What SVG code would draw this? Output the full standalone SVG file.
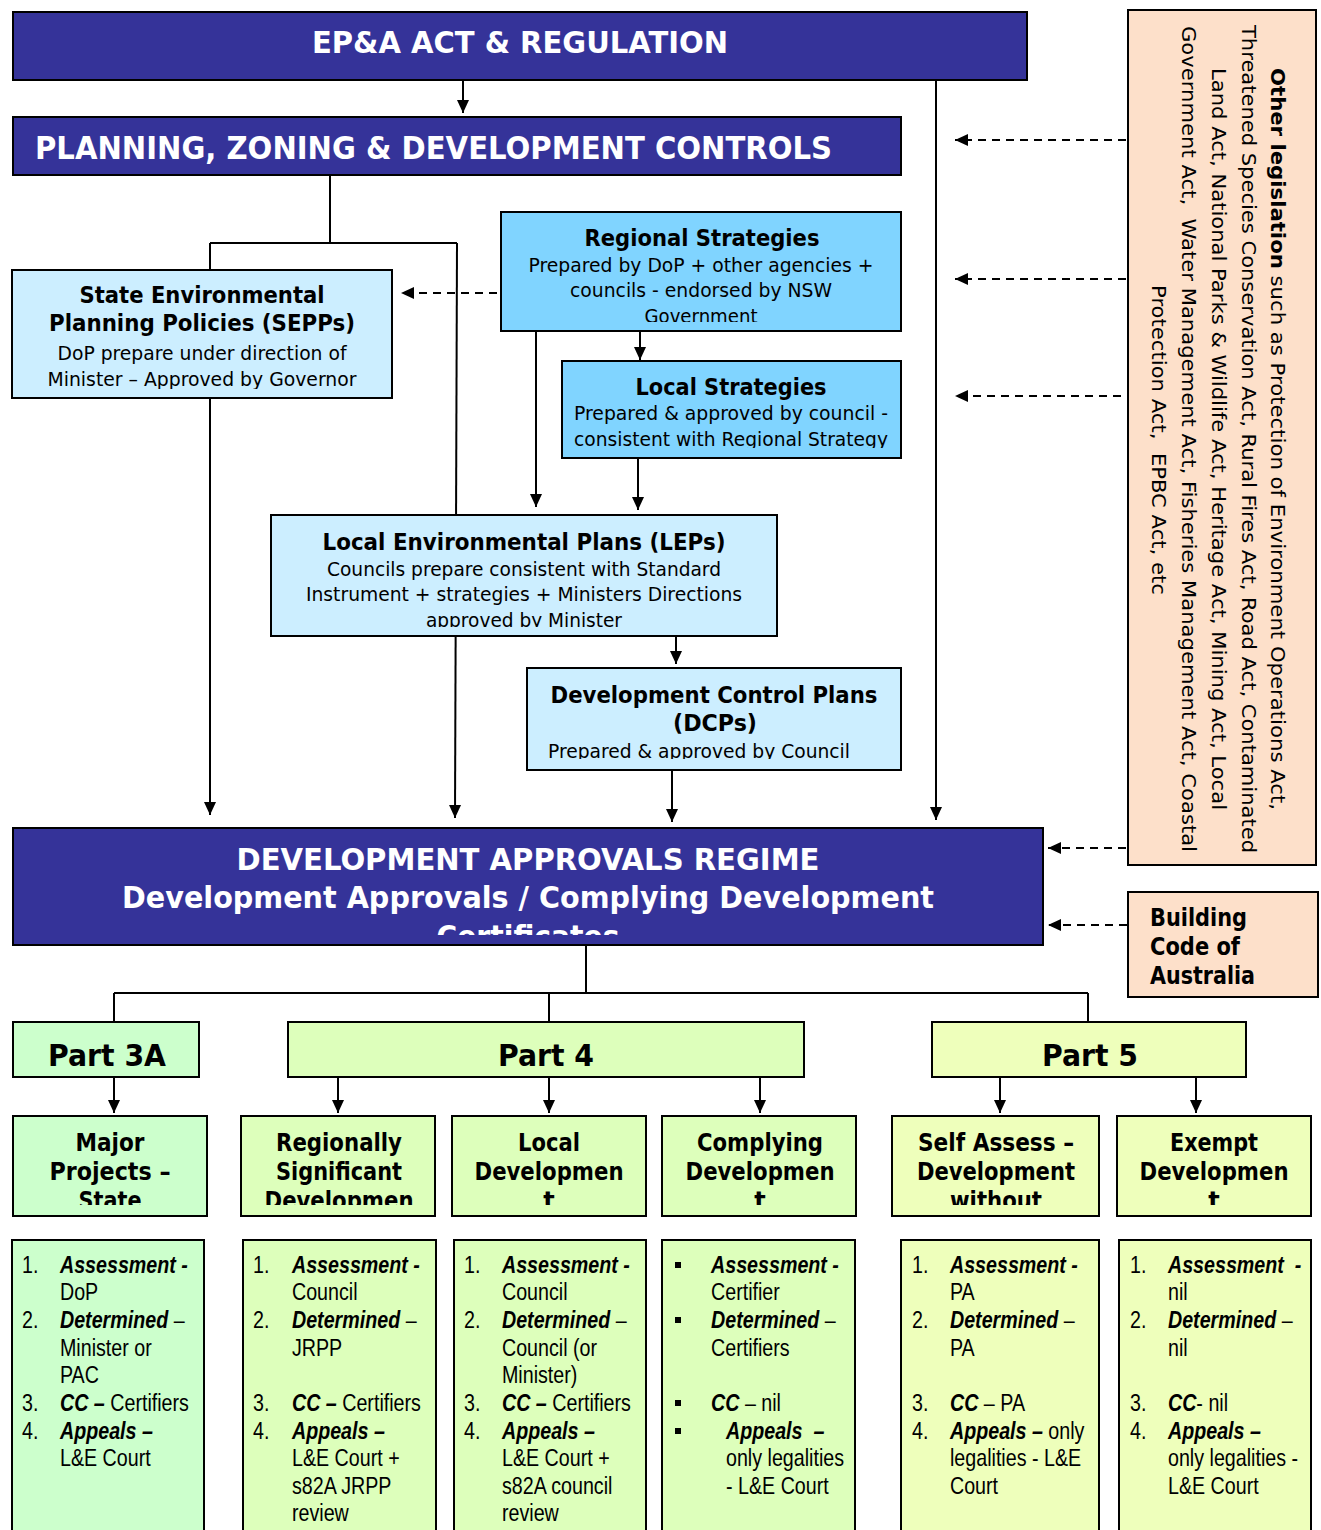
<svg xmlns="http://www.w3.org/2000/svg" width="1321" height="1530" viewBox="0 0 1321 1530">
<defs>
<marker id="ah" markerUnits="userSpaceOnUse" markerWidth="14" markerHeight="14" refX="13" refY="7" orient="auto"><path d="M0,1 L13,7 L0,13 z" fill="#000"/></marker>
<clipPath id="cSEPP"><rect x="12" y="270" width="380" height="119"/></clipPath>
<clipPath id="cReg"><rect x="501" y="212" width="400" height="110"/></clipPath>
<clipPath id="cLoc"><rect x="562" y="361" width="339" height="87"/></clipPath>
<clipPath id="cLEP"><rect x="271" y="515" width="506" height="112"/></clipPath>
<clipPath id="cDCP"><rect x="527" y="668" width="374" height="91"/></clipPath>
<clipPath id="cDAR"><rect x="13" y="828" width="1030" height="107"/></clipPath>
<clipPath id="cRow2"><rect x="0" y="1116" width="1321" height="89"/></clipPath>
</defs>
<style>
.box{stroke:#000;stroke-width:2}
.dark{fill:#353399}
.lb{fill:#cceeff}
.mb{fill:#80d4ff}
.peach{fill:#fde0ca}
.g1{fill:#ccffcc}
.g2{fill:#ddffbb}
.g3{fill:#eeffbb}
.ln{stroke:#000;stroke-width:2;fill:none}
.ar{marker-end:url(#ah)}
.da{stroke-dasharray:8 6}
text{font-family:"DejaVu Sans",Verdana,sans-serif;fill:#000}
.wt{fill:#fff;font-weight:bold;font-size:30px}
.t{font-weight:bold;font-size:23px}
.t2{font-weight:bold;font-size:24px}
.b{font-size:20px}
.c{text-anchor:middle}
.n{font-family:"Liberation Sans",Arial,sans-serif;font-size:24px}
.bi{font-weight:bold;font-style:italic}
.bul{fill:#000}
</style>

<g id="connectors">
<line class="ln ar" x1="463" y1="80" x2="463" y2="113"/>
<line class="ln ar" x1="936" y1="80" x2="936" y2="820"/>
<polyline class="ln" points="330,175 330,243"/>
<polyline class="ln" points="210,243 457,243"/>
<line class="ln ar" x1="210" y1="243" x2="210" y2="815"/>
<line class="ln ar" x1="457" y1="243" x2="455" y2="818"/>
<line class="ln ar" x1="536" y1="331" x2="536" y2="507"/>
<line class="ln ar" x1="640" y1="331" x2="640" y2="360"/>
<line class="ln ar" x1="638" y1="458" x2="638" y2="510"/>
<line class="ln ar" x1="676" y1="636" x2="676" y2="664"/>
<line class="ln ar" x1="672" y1="770" x2="672" y2="822"/>
<line class="ln da ar" x1="497" y1="293" x2="401" y2="293"/>
<line class="ln da ar" x1="1126" y1="140" x2="955" y2="140"/>
<line class="ln da ar" x1="1126" y1="279" x2="955" y2="279"/>
<line class="ln da ar" x1="1121" y1="396" x2="955" y2="396"/>
<line class="ln da ar" x1="1126" y1="848" x2="1048" y2="848"/>
<line class="ln da ar" x1="1127" y1="925" x2="1048" y2="925"/>
<line class="ln" x1="586" y1="945" x2="586" y2="993"/>
<line class="ln" x1="114" y1="993" x2="1088" y2="993"/>
<line class="ln" x1="114" y1="993" x2="114" y2="1022"/>
<line class="ln" x1="549" y1="993" x2="549" y2="1022"/>
<line class="ln" x1="1088" y1="993" x2="1088" y2="1022"/>
<line class="ln ar" x1="114" y1="1077" x2="114" y2="1113"/>
<line class="ln ar" x1="338" y1="1077" x2="338" y2="1113"/>
<line class="ln ar" x1="549" y1="1077" x2="549" y2="1113"/>
<line class="ln ar" x1="760" y1="1077" x2="760" y2="1113"/>
<line class="ln ar" x1="1000" y1="1077" x2="1000" y2="1113"/>
<line class="ln ar" x1="1196" y1="1077" x2="1196" y2="1113"/>
</g>

<g id="epa">
<rect class="box dark" x="13" y="12" width="1014" height="68"/>
<text class="wt c" x="520" y="53" textLength="416" lengthAdjust="spacingAndGlyphs">EP&amp;A ACT &amp; REGULATION</text>
</g>

<g id="planning">
<rect class="box dark" x="13" y="117" width="888" height="58"/>
<text class="wt" x="35" y="159" style="font-size:32px" textLength="797" lengthAdjust="spacingAndGlyphs">PLANNING, ZONING &amp; DEVELOPMENT CONTROLS</text>
</g>

<g id="sepp">
<rect class="box lb" x="12" y="270" width="380" height="128"/>
<g clip-path="url(#cSEPP)">
<text class="t c" x="202" y="303" textLength="245" lengthAdjust="spacingAndGlyphs">State Environmental</text>
<text class="t c" x="202" y="331" textLength="306" lengthAdjust="spacingAndGlyphs">Planning Policies (SEPPs)</text>
<text class="b c" x="202" y="360" textLength="289" lengthAdjust="spacingAndGlyphs">DoP prepare under direction of</text>
<text class="b c" x="202" y="386" textLength="309" lengthAdjust="spacingAndGlyphs">Minister – Approved by Governor</text>
</g>
</g>

<g id="regional">
<rect class="box mb" x="501" y="212" width="400" height="119"/>
<g clip-path="url(#cReg)">
<text class="t c" x="702" y="246" textLength="235" lengthAdjust="spacingAndGlyphs">Regional Strategies</text>
<text class="b c" x="701" y="272" textLength="345" lengthAdjust="spacingAndGlyphs">Prepared by DoP + other agencies +</text>
<text class="b c" x="701" y="297" textLength="262" lengthAdjust="spacingAndGlyphs">councils - endorsed by NSW</text>
<text class="b c" x="701" y="323" textLength="113" lengthAdjust="spacingAndGlyphs">Government</text>
</g>
</g>

<g id="local-strategies">
<rect class="box mb" x="562" y="361" width="339" height="97"/>
<g clip-path="url(#cLoc)">
<text class="t c" x="731" y="395" textLength="191" lengthAdjust="spacingAndGlyphs">Local Strategies</text>
<text class="b c" x="731" y="420" textLength="314" lengthAdjust="spacingAndGlyphs">Prepared &amp; approved by council -</text>
<text class="b c" x="731" y="446" textLength="314" lengthAdjust="spacingAndGlyphs">consistent with Regional Strategy</text>
</g>
</g>

<g id="leps">
<rect class="box lb" x="271" y="515" width="506" height="121"/>
<g clip-path="url(#cLEP)">
<text class="t c" x="524" y="550" textLength="403" lengthAdjust="spacingAndGlyphs">Local Environmental Plans (LEPs)</text>
<text class="b c" x="524" y="576" textLength="394" lengthAdjust="spacingAndGlyphs">Councils prepare consistent with Standard</text>
<text class="b c" x="524" y="601" textLength="436" lengthAdjust="spacingAndGlyphs">Instrument + strategies + Ministers Directions</text>
<text class="b c" x="524" y="627" textLength="196" lengthAdjust="spacingAndGlyphs">approved by Minister</text>
</g>
</g>

<g id="dcps">
<rect class="box lb" x="527" y="668" width="374" height="102"/>
<g clip-path="url(#cDCP)">
<text class="t c" x="714" y="703" textLength="327" lengthAdjust="spacingAndGlyphs">Development Control Plans</text>
<text class="t c" x="715" y="731" textLength="84" lengthAdjust="spacingAndGlyphs">(DCPs)</text>
<text class="b" x="548" y="758" textLength="302" lengthAdjust="spacingAndGlyphs">Prepared &amp; approved by Council</text>
</g>
</g>

<g id="dar">
<rect class="box dark" x="13" y="828" width="1030" height="117"/>
<g clip-path="url(#cDAR)">
<text class="wt c" x="528" y="870" textLength="583" lengthAdjust="spacingAndGlyphs">DEVELOPMENT APPROVALS REGIME</text>
<text class="wt c" x="528" y="908" textLength="812" lengthAdjust="spacingAndGlyphs">Development Approvals / Complying Development</text>
<text class="wt c" x="528" y="947" textLength="183" lengthAdjust="spacingAndGlyphs">Certificates</text>
</g>
</g>

<g id="other-legislation">
<rect class="box peach" x="1128" y="10" width="188" height="855"/>
<text class="b c" transform="translate(1271,439) rotate(90)" textLength="742" lengthAdjust="spacingAndGlyphs"><tspan font-weight="bold">Other legislation</tspan> such as Protection of Environment Operations Act,</text>
<text class="b c" transform="translate(1242,439) rotate(90)" textLength="828" lengthAdjust="spacingAndGlyphs">Threatened Species Conservation Act, Rural Fires Act, Road Act, Contaminated</text>
<text class="b c" transform="translate(1212,439) rotate(90)" textLength="742" lengthAdjust="spacingAndGlyphs">Land Act, National Parks &amp; Wildlife Act, Heritage Act, Mining Act, Local</text>
<text class="b c" xml:space="preserve" transform="translate(1182,439) rotate(90)" textLength="826" lengthAdjust="spacingAndGlyphs">Government Act,  Water Management Act, Fisheries Management Act, Coastal</text>
<text class="b c" xml:space="preserve" transform="translate(1152,440) rotate(90)" textLength="310" lengthAdjust="spacingAndGlyphs">Protection Act,  EPBC Act, etc</text>
</g>

<g id="bca">
<rect class="box peach" x="1128" y="892" width="190" height="105"/>
<text class="t2" x="1150" y="926" textLength="97" lengthAdjust="spacingAndGlyphs">Building</text>
<text class="t2" x="1150" y="955" textLength="90" lengthAdjust="spacingAndGlyphs">Code of</text>
<text class="t2" x="1150" y="984" textLength="105" lengthAdjust="spacingAndGlyphs">Australia</text>
</g>

<g id="part3a">
<rect class="box g1" x="13" y="1022" width="186" height="55"/>
<text class="t c" x="107" y="1066" style="font-size:31px" textLength="118" lengthAdjust="spacingAndGlyphs">Part 3A</text>
</g>
<g id="part4">
<rect class="box g2" x="288" y="1022" width="516" height="55"/>
<text class="t c" x="546" y="1066" style="font-size:31px" textLength="96" lengthAdjust="spacingAndGlyphs">Part 4</text>
</g>
<g id="part5">
<rect class="box g3" x="932" y="1022" width="314" height="55"/>
<text class="t c" x="1090" y="1066" style="font-size:31px" textLength="96" lengthAdjust="spacingAndGlyphs">Part 5</text>
</g>

<g id="major-projects">
<rect class="box g1" x="13" y="1116" width="194" height="100"/>
<g clip-path="url(#cRow2)">
<text class="t2 c" x="110" y="1151" textLength="69" lengthAdjust="spacingAndGlyphs">Major</text>
<text class="t2 c" x="110" y="1180" textLength="121" lengthAdjust="spacingAndGlyphs">Projects –</text>
<text class="t2 c" x="110" y="1209" textLength="63" lengthAdjust="spacingAndGlyphs">State</text>
</g>
</g>
<g id="regionally-significant">
<rect class="box g2" x="241" y="1116" width="194" height="100"/>
<g clip-path="url(#cRow2)">
<text class="t2 c" x="339" y="1151" textLength="126" lengthAdjust="spacingAndGlyphs">Regionally</text>
<text class="t2 c" x="339" y="1180" textLength="126" lengthAdjust="spacingAndGlyphs">Significant</text>
<text class="t2 c" x="339" y="1209" textLength="149" lengthAdjust="spacingAndGlyphs">Developmen</text>
</g>
</g>
<g id="local-development">
<rect class="box g2" x="452" y="1116" width="194" height="100"/>
<g clip-path="url(#cRow2)">
<text class="t2 c" x="549" y="1151" textLength="62" lengthAdjust="spacingAndGlyphs">Local</text>
<text class="t2 c" x="549" y="1180" textLength="149" lengthAdjust="spacingAndGlyphs">Developmen</text>
<text class="t2 c" x="549" y="1209">t</text>
</g>
</g>
<g id="complying-development">
<rect class="box g2" x="662" y="1116" width="194" height="100"/>
<g clip-path="url(#cRow2)">
<text class="t2 c" x="760" y="1151" textLength="126" lengthAdjust="spacingAndGlyphs">Complying</text>
<text class="t2 c" x="760" y="1180" textLength="149" lengthAdjust="spacingAndGlyphs">Developmen</text>
<text class="t2 c" x="760" y="1209">t</text>
</g>
</g>
<g id="self-assess">
<rect class="box g3" x="892" y="1116" width="207" height="100"/>
<g clip-path="url(#cRow2)">
<text class="t2 c" x="996" y="1151" textLength="156" lengthAdjust="spacingAndGlyphs">Self Assess –</text>
<text class="t2 c" x="996" y="1180" textLength="158" lengthAdjust="spacingAndGlyphs">Development</text>
<text class="t2 c" x="996" y="1209" textLength="92" lengthAdjust="spacingAndGlyphs">without</text>
</g>
</g>
<g id="exempt-development">
<rect class="box g3" x="1117" y="1116" width="194" height="100"/>
<g clip-path="url(#cRow2)">
<text class="t2 c" x="1214" y="1151" textLength="88" lengthAdjust="spacingAndGlyphs">Exempt</text>
<text class="t2 c" x="1214" y="1180" textLength="149" lengthAdjust="spacingAndGlyphs">Developmen</text>
<text class="t2 c" x="1214" y="1209">t</text>
</g>
</g>

<g id="detail-major">
<rect class="box g1" x="12" y="1240" width="192" height="300"/>
<g transform="translate(22,0) scale(0.82,1)">
<text class="n" x="0" y="1273">1.</text><text class="n" x="46.3" y="1273"><tspan class="bi">Assessment -</tspan></text>
<text class="n" x="46.3" y="1300">DoP</text>
<text class="n" x="0" y="1328">2.</text><text class="n" x="46.3" y="1328"><tspan class="bi">Determined</tspan> –</text>
<text class="n" x="46.3" y="1356">Minister or</text>
<text class="n" x="46.3" y="1383">PAC</text>
<text class="n" x="0" y="1411">3.</text><text class="n" x="46.3" y="1411"><tspan class="bi">CC –</tspan> Certifiers</text>
<text class="n" x="0" y="1439">4.</text><text class="n" x="46.3" y="1439"><tspan class="bi">Appeals –</tspan></text>
<text class="n" x="46.3" y="1466">L&amp;E Court</text>
</g>
</g>

<g id="detail-regional">
<rect class="box g2" x="243" y="1240" width="193" height="300"/>
<g transform="translate(253,0) scale(0.82,1)">
<text class="n" x="0" y="1273">1.</text><text class="n" x="47.5" y="1273"><tspan class="bi">Assessment -</tspan></text>
<text class="n" x="47.5" y="1300">Council</text>
<text class="n" x="0" y="1328">2.</text><text class="n" x="47.5" y="1328"><tspan class="bi">Determined</tspan> –</text>
<text class="n" x="47.5" y="1356">JRPP</text>
<text class="n" x="0" y="1411">3.</text><text class="n" x="47.5" y="1411"><tspan class="bi">CC –</tspan> Certifiers</text>
<text class="n" x="0" y="1439">4.</text><text class="n" x="47.5" y="1439"><tspan class="bi">Appeals –</tspan></text>
<text class="n" x="47.5" y="1466">L&amp;E Court +</text>
<text class="n" x="47.5" y="1494">s82A JRPP</text>
<text class="n" x="47.5" y="1521">review</text>
</g>
</g>

<g id="detail-local">
<rect class="box g2" x="454" y="1240" width="192" height="300"/>
<g transform="translate(464,0) scale(0.82,1)">
<text class="n" x="0" y="1273">1.</text><text class="n" x="46.3" y="1273"><tspan class="bi">Assessment -</tspan></text>
<text class="n" x="46.3" y="1300">Council</text>
<text class="n" x="0" y="1328">2.</text><text class="n" x="46.3" y="1328"><tspan class="bi">Determined</tspan> –</text>
<text class="n" x="46.3" y="1356">Council (or</text>
<text class="n" x="46.3" y="1383">Minister)</text>
<text class="n" x="0" y="1411">3.</text><text class="n" x="46.3" y="1411"><tspan class="bi">CC –</tspan> Certifiers</text>
<text class="n" x="0" y="1439">4.</text><text class="n" x="46.3" y="1439"><tspan class="bi">Appeals –</tspan></text>
<text class="n" x="46.3" y="1466">L&amp;E Court +</text>
<text class="n" x="46.3" y="1494">s82A council</text>
<text class="n" x="46.3" y="1521">review</text>
</g>
</g>

<g id="detail-complying">
<rect class="box g2" x="662" y="1240" width="193" height="300"/>
<rect class="bul" x="675" y="1262" width="6" height="6"/>
<rect class="bul" x="675" y="1317" width="6" height="6"/>
<rect class="bul" x="675" y="1400" width="6" height="6"/>
<rect class="bul" x="675" y="1428" width="6" height="6"/>
<g transform="translate(711,0) scale(0.82,1)">
<text class="n" x="0" y="1273"><tspan class="bi">Assessment -</tspan></text>
<text class="n" x="0" y="1300">Certifier</text>
<text class="n" x="0" y="1328"><tspan class="bi">Determined</tspan> –</text>
<text class="n" x="0" y="1356">Certifiers</text>
<text class="n" x="0" y="1411"><tspan class="bi">CC</tspan> – nil</text>
<text class="n" x="18.3" y="1439" xml:space="preserve"><tspan class="bi">Appeals  –</tspan></text>
<text class="n" x="18.3" y="1466">only legalities</text>
<text class="n" x="18.3" y="1494">- L&amp;E Court</text>
</g>
</g>

<g id="detail-self-assess">
<rect class="box g3" x="901" y="1240" width="198" height="300"/>
<g transform="translate(912,0) scale(0.82,1)">
<text class="n" x="0" y="1273">1.</text><text class="n" x="46.3" y="1273"><tspan class="bi">Assessment -</tspan></text>
<text class="n" x="46.3" y="1300">PA</text>
<text class="n" x="0" y="1328">2.</text><text class="n" x="46.3" y="1328"><tspan class="bi">Determined</tspan> –</text>
<text class="n" x="46.3" y="1356">PA</text>
<text class="n" x="0" y="1411">3.</text><text class="n" x="46.3" y="1411"><tspan class="bi">CC</tspan> – PA</text>
<text class="n" x="0" y="1439">4.</text><text class="n" x="46.3" y="1439"><tspan class="bi">Appeals –</tspan> only</text>
<text class="n" x="46.3" y="1466">legalities - L&amp;E</text>
<text class="n" x="46.3" y="1494">Court</text>
</g>
</g>

<g id="detail-exempt">
<rect class="box g3" x="1119" y="1240" width="192" height="300"/>
<g transform="translate(1130,0) scale(0.82,1)">
<text class="n" x="0" y="1273">1.</text><text class="n" x="46.3" y="1273" xml:space="preserve"><tspan class="bi">Assessment  -</tspan></text>
<text class="n" x="46.3" y="1300">nil</text>
<text class="n" x="0" y="1328">2.</text><text class="n" x="46.3" y="1328"><tspan class="bi">Determined</tspan> –</text>
<text class="n" x="46.3" y="1356">nil</text>
<text class="n" x="0" y="1411">3.</text><text class="n" x="46.3" y="1411"><tspan class="bi">CC</tspan>- nil</text>
<text class="n" x="0" y="1439">4.</text><text class="n" x="46.3" y="1439"><tspan class="bi">Appeals –</tspan></text>
<text class="n" x="46.3" y="1466">only legalities -</text>
<text class="n" x="46.3" y="1494">L&amp;E Court</text>
</g>
</g>
</svg>
